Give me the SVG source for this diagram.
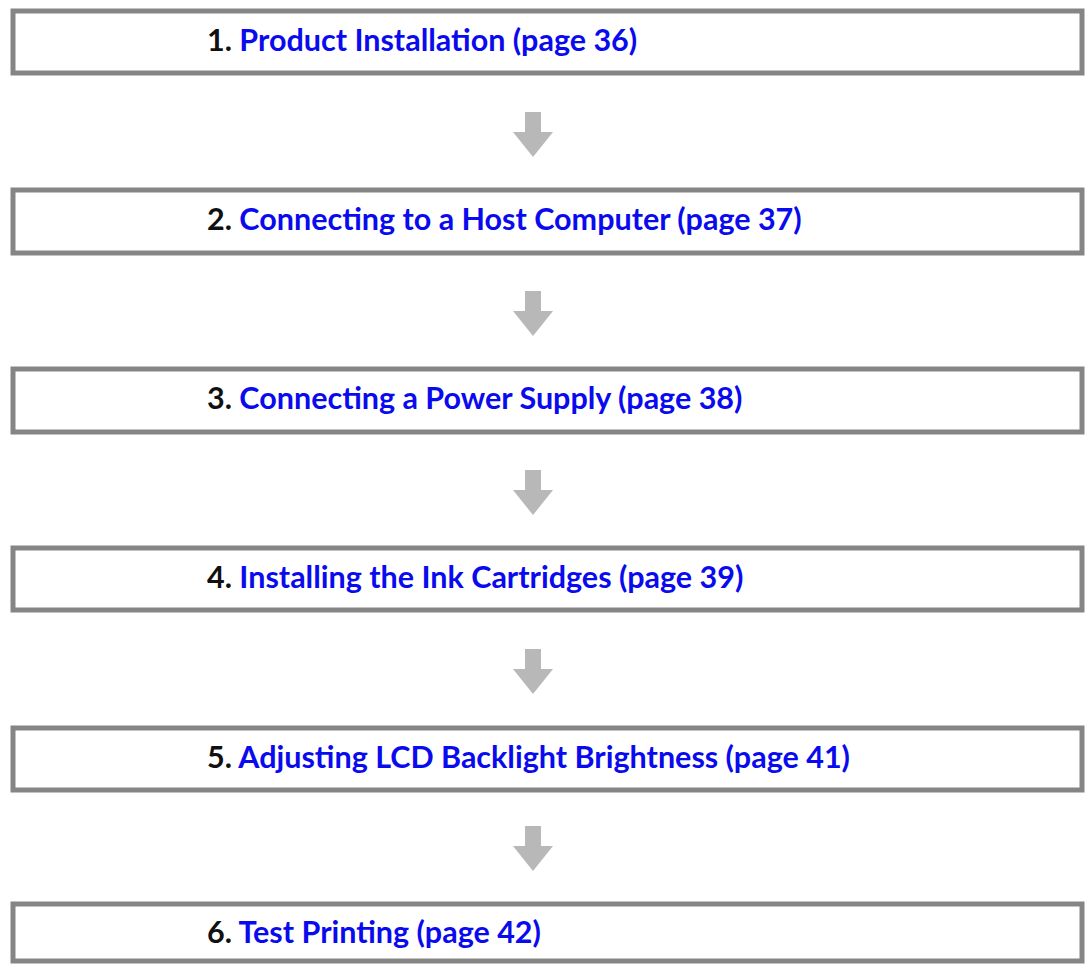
<svg xmlns="http://www.w3.org/2000/svg" width="1087" height="965" viewBox="0 0 1087 965">
<style>
.box{fill:#ffffff;stroke:#858585;stroke-width:5}
.t{font-family:Lato,"Open Sans","Liberation Sans",sans-serif;font-weight:bold;font-size:30.5px;fill:#111111}
.l{fill:#0a0aee}
.arr{fill:#b8b8b8}
</style>
<rect width="1087" height="965" fill="#ffffff"/>
<g id="step1"><rect class="box" x="13" y="11" width="1069" height="62"/><text class="t" x="207" y="51">1. <tspan class="l">Product Installation (page 36)</tspan></text></g>
<g id="step2"><rect class="box" x="13" y="190" width="1069" height="63"/><text class="t" x="207" y="230">2. <tspan class="l">Connecting to a Host Computer (page 37)</tspan></text></g>
<g id="step3"><rect class="box" x="13" y="369" width="1069" height="63"/><text class="t" x="207" y="409">3. <tspan class="l">Connecting a Power Supply (page 38)</tspan></text></g>
<g id="step4"><rect class="box" x="13" y="548" width="1069" height="62"/><text class="t" x="207" y="588">4. <tspan class="l">Installing the Ink Cartridges (page 39)</tspan></text></g>
<g id="step5"><rect class="box" x="13" y="728" width="1069" height="62"/><text class="t" x="207" y="768">5. <tspan class="l">Adjusting LCD Backlight Brightness (page 41)</tspan></text></g>
<g id="step6"><rect class="box" x="13" y="904" width="1069" height="57"/><text class="t" x="207" y="943">6. <tspan class="l">Test Printing (page 42)</tspan></text></g>
<g id="connectors">
<path class="arr" d="M525 112H541V132H553L533 157L513 132H525Z"/>
<path class="arr" d="M525 291H541V311H553L533 336L513 311H525Z"/>
<path class="arr" d="M525 470H541V490H553L533 515L513 490H525Z"/>
<path class="arr" d="M525 649H541V669H553L533 694L513 669H525Z"/>
<path class="arr" d="M525 826H541V846H553L533 871L513 846H525Z"/>
</g>
</svg>
